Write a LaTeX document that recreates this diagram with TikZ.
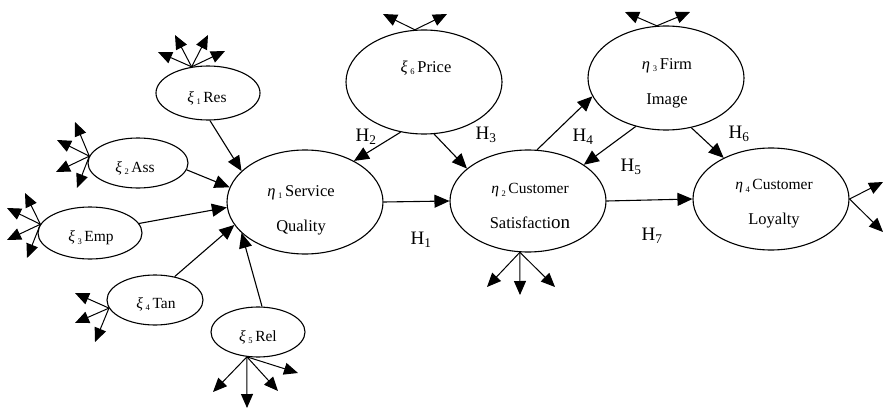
\documentclass[tikz,border=0pt]{standalone}
\usepackage{fontspec}
\setmainfont{Liberation Serif}
\usetikzlibrary{shapes.geometric,arrows.meta}
\newcommand{\mysub}[1]{\,\raisebox{-2.5pt}{\fontsize{8.5}{8.5}\selectfont #1}\,}
\newcommand{\myxi}[1]{{\itshape ξ}\mysub{#1}}
\newcommand{\myeta}[1]{{\itshape η}\mysub{#1}}
\tikzset{
  lat/.style={draw, ellipse, line width=1.1pt, inner sep=0pt},
  arr/.style={line width=1.1pt, -{Triangle[length=15pt,width=13pt]}},
  ind/.style={line width=1pt, -{Triangle[length=14pt,width=12pt]}},
  stxt/.style={font=\fontsize{15.5}{35}\selectfont, align=center, inner sep=0pt},
  btxt/.style={font=\fontsize{16.5}{35}\selectfont, align=center, inner sep=0pt},
  hl/.style={font=\fontsize{19}{19}\selectfont, inner sep=0pt},
}
\begin{document}
\begin{tikzpicture}[x=1pt,y=-1pt]
\useasboundingbox (0,0) rectangle (888,409);
% latent variables
\node[lat, minimum width=104pt, minimum height=54pt] (res) at (208,93) {};
\node[lat, minimum width=100pt, minimum height=50pt] (ass) at (138,163) {};
\node[lat, minimum width=104pt, minimum height=52pt] (emp) at (90,233) {};
\node[lat, minimum width=96pt, minimum height=50pt] (tan) at (155,300) {};
\node[lat, minimum width=94pt, minimum height=50pt] (rel) at (258,332) {};
\node[lat, minimum width=156pt, minimum height=104pt] (sq) at (305,202) {};
\node[lat, minimum width=156pt, minimum height=104pt] (pr) at (424,82) {};
\node[lat, minimum width=156pt, minimum height=102pt] (cs) at (528,201) {};
\node[lat, minimum width=156pt, minimum height=104pt] (fi) at (666,78) {};
\node[lat, minimum width=156pt, minimum height=102pt] (cl) at (771,199) {};
% texts
\node[stxt] (res-t) at (207,98) {\myxi{1}Res};
\node[stxt] (ass-t) at (135,168) {\myxi{2}Ass};
\node[stxt] (emp-t) at (91,238) {\myxi{3}Emp};
\node[stxt] (tan-t) at (156,304) {\myxi{4}Tan};
\node[stxt] (rel-t) at (258,337) {\myxi{5}Rel};
\node[btxt] (pr-t) at (426,68) {\myxi{6}Price};
\node[btxt] (sq-t) at (301,210) {\myeta{1}Service\\Quality};
\node[btxt] (cs-t) at (530,206) {{\fontsize{15.5}{35}\selectfont\myeta{2}Customer}\\Satisfacti{\fontsize{19}{35}\selectfont on}};
\node[btxt] (fi-t) at (667,83) {\myeta{3}Firm\\Image};
\node[btxt] (cl-t) at (774,204) {{\fontsize{15.5}{35}\selectfont\myeta{4}Customer}\\Loyalty};
% structural paths
\draw[arr] (res.-86) -- (sq.154);
\draw[arr] (ass.-8) -- (sq.169);
\draw[arr] (emp.11) -- (sq.-176);
\draw[arr] (tan.50) -- (sq.-162);
\draw[arr] (rel.81) -- (sq.-154);
\draw[arr] (pr.-115) -- (sq.40);
\draw[arr] (pr.-79) -- (cs.152);
\draw[arr] (sq.east) -- (cs.west);
\draw[arr] (cs.80) -- (fi.-166);
\draw[arr] (fi.-122) -- (cs.33);
\draw[arr] (fi.-63) -- (cl.139);
\draw[arr] (cs.east) -- (cl.west);
% hypothesis labels
\node[hl] (h1) at (421,240) {H\textsubscript{1}};
\node[hl] (h2) at (366,137) {H\textsubscript{2}};
\node[hl] (h3) at (486,135) {H\textsubscript{3}};
\node[hl] (h4) at (583,137) {H\textsubscript{4}};
\node[hl] (h5) at (631,167) {H\textsubscript{5}};
\node[hl] (h6) at (739,134) {H\textsubscript{6}};
\node[hl] (h7) at (652,236) {H\textsubscript{7}};
% indicator end points
\coordinate (res-a) at (158,52);
\coordinate (res-b) at (175,35);
\coordinate (res-c) at (208,35);
\coordinate (res-d) at (225,51);
\coordinate (ass-a) at (75,122);
\coordinate (ass-b) at (57,140);
\coordinate (ass-c) at (56,172);
\coordinate (ass-d) at (77,188);
\coordinate (emp-a) at (25,193);
\coordinate (emp-b) at (7,208);
\coordinate (emp-c) at (7,240);
\coordinate (emp-d) at (27,258);
\coordinate (tan-a) at (75,293);
\coordinate (tan-b) at (75,323);
\coordinate (tan-c) at (95,342);
\coordinate (rel-a) at (213,392);
\coordinate (rel-b) at (247,408);
\coordinate (rel-c) at (278,391);
\coordinate (rel-d) at (298,373);
\coordinate (pr-a) at (383,14);
\coordinate (pr-b) at (447,14);
\coordinate (fi-a) at (625,12);
\coordinate (fi-b) at (690,12);
\coordinate (cs-a) at (487,287);
\coordinate (cs-b) at (520,295);
\coordinate (cs-c) at (555,287);
\coordinate (cl-a) at (883,182);
\coordinate (cl-b) at (883,232);
% indicator arrows
\draw[ind] (res.122) -- (res-a);
\draw[ind] (res.122) -- (res-b);
\draw[ind] (res.122) -- (res-c);
\draw[ind] (res.122) -- (res-d);
\draw[ind] (ass.172) -- (ass-a);
\draw[ind] (ass.172) -- (ass-b);
\draw[ind] (ass.172) -- (ass-c);
\draw[ind] (ass.172) -- (ass-d);
\draw[ind] (emp.170) -- (emp-a);
\draw[ind] (emp.170) -- (emp-b);
\draw[ind] (emp.170) -- (emp-c);
\draw[ind] (emp.170) -- (emp-d);
\draw[ind] (tan.190) -- (tan-a);
\draw[ind] (tan.190) -- (tan-b);
\draw[ind] (tan.190) -- (tan-c);
\draw[ind] (rel.-114) -- (rel-a);
\draw[ind] (rel.-114) -- (rel-b);
\draw[ind] (rel.-114) -- (rel-c);
\draw[ind] (rel.-114) -- (rel-d);
\draw[ind] (pr.100) -- (pr-a);
\draw[ind] (pr.100) -- (pr-b);
\draw[ind] (fi.100) -- (fi-a);
\draw[ind] (fi.100) -- (fi-b);
\draw[ind] (cs.-99) -- (cs-a);
\draw[ind] (cs.-99) -- (cs-b);
\draw[ind] (cs.-99) -- (cs-c);
\draw[ind] (cl.east) -- (cl-a);
\draw[ind] (cl.east) -- (cl-b);
\end{tikzpicture}
\end{document}
